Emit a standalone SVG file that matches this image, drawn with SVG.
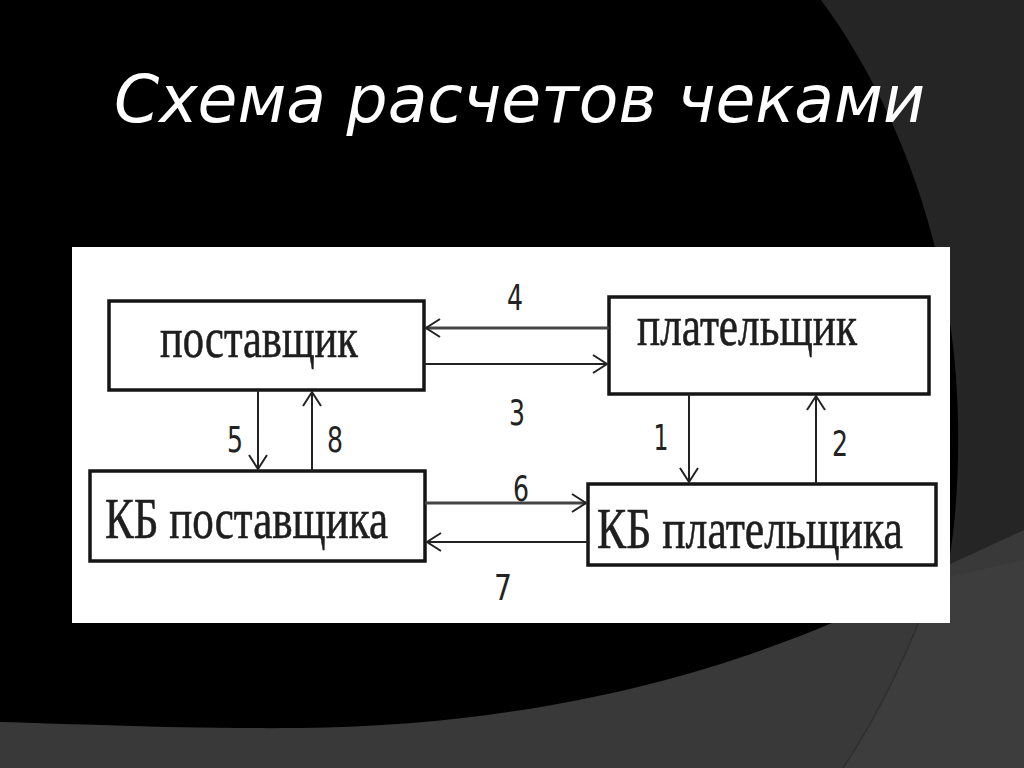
<svg xmlns="http://www.w3.org/2000/svg" width="1024" height="768" viewBox="0 0 1024 768">
  <defs>
    <style>
      .title { font-family: "DejaVu Sans", "Noto Sans", sans-serif; font-style: italic; font-size: 66px; fill: #ffffff; }
      .box { fill: #ffffff; stroke: #151515; stroke-width: 3.5; }
      .lbl { font-family: "Liberation Serif", "DejaVu Serif", serif; font-size: 56px; fill: #1e1e1e; stroke: #1e1e1e; stroke-width: 0.6; }
      .num { font-family: "DejaVu Sans Condensed", "DejaVu Sans", sans-serif; font-size: 36px; fill: #222222; text-anchor: middle; }
      .conn { stroke: #222222; stroke-width: 2; fill: none; }
      .thick { stroke: #444444; stroke-width: 3; }
    </style>
    <marker id="arr" markerUnits="userSpaceOnUse" markerWidth="18" markerHeight="22" refX="15" refY="10" orient="auto">
      <path d="M1,1 L15,10 L1,19" fill="none" stroke="#222222" stroke-width="2"/>
    </marker>
  </defs>

  <!-- background -->
  <g id="background">
    <rect x="0" y="0" width="1024" height="768" fill="#393939"/>
    <path d="M935,580 Q895,690 843,768 L1024,768 L1024,560 Z" fill="#3d3d3d"/>
    <path d="M935,580 Q895,690 843,768" fill="none" stroke="#2e2e2e" stroke-width="1.5"/>
    <path d="M780,0 H1024 V530 L948,565 L780,600 Z" fill="#252525"/>
    <path d="M0,0 H821 C895,100 955,250 958,420 C959,480 955,530 948,565 C820,640 600,725 300,728 C180,729 80,724 0,722 Z" fill="#000000"/>
  </g>

  <text class="title" x="114" y="122" textLength="811" lengthAdjust="spacingAndGlyphs">Схема расчетов чеками</text>

  <!-- white panel -->
  <rect id="panel" x="72" y="247" width="878" height="376" fill="#ffffff"/>

  <g id="node-postavshik">
    <rect class="box" x="109" y="301" width="315" height="89"/>
    <text class="lbl" x="160" y="357" textLength="198" lengthAdjust="spacingAndGlyphs">поставщик</text>
  </g>

  <g id="node-platelshik">
    <rect class="box" x="609" y="297" width="320" height="97"/>
    <text class="lbl" x="637" y="345" textLength="220" lengthAdjust="spacingAndGlyphs">плательщик</text>
  </g>

  <g id="node-kb-postavshika">
    <rect class="box" x="90" y="471" width="335" height="90"/>
    <text class="lbl" x="105" y="538" textLength="283" lengthAdjust="spacingAndGlyphs">КБ поставщика</text>
  </g>

  <g id="node-kb-platelshika">
    <rect class="box" x="588" y="484" width="348" height="81"/>
    <text class="lbl" x="597" y="548" textLength="306" lengthAdjust="spacingAndGlyphs">КБ плательщика</text>
  </g>

  <g id="connectors">
    <!-- 4: плательщик -> поставщик -->
    <line class="conn thick" x1="609" y1="328" x2="426" y2="328" marker-end="url(#arr)"/>
    <!-- 3: поставщик -> плательщик -->
    <line class="conn" x1="424" y1="364" x2="607" y2="364" marker-end="url(#arr)"/>
    <!-- 1: плательщик -> КБ плательщика -->
    <line class="conn" x1="689" y1="394" x2="689" y2="482" marker-end="url(#arr)"/>
    <!-- 2: КБ плательщика -> плательщик -->
    <line class="conn" x1="816" y1="484" x2="816" y2="396" marker-end="url(#arr)"/>
    <!-- 5: поставщик -> КБ поставщика -->
    <line class="conn" x1="258" y1="390" x2="258" y2="469" marker-end="url(#arr)"/>
    <!-- 8: КБ поставщика -> поставщик -->
    <line class="conn" x1="312" y1="471" x2="312" y2="392" marker-end="url(#arr)"/>
    <!-- 6: КБ поставщика -> КБ плательщика -->
    <line class="conn thick" x1="425" y1="503" x2="586" y2="503" marker-end="url(#arr)"/>
    <!-- 7: КБ плательщика -> КБ поставщика -->
    <line class="conn" x1="588" y1="542" x2="427" y2="542" marker-end="url(#arr)"/>

    <text class="num" x="515" y="310" textLength="16" lengthAdjust="spacingAndGlyphs">4</text>
    <text class="num" x="517" y="425" textLength="16" lengthAdjust="spacingAndGlyphs">3</text>
    <text class="num" x="661" y="450" textLength="15" lengthAdjust="spacingAndGlyphs">1</text>
    <text class="num" x="840" y="456" textLength="16" lengthAdjust="spacingAndGlyphs">2</text>
    <text class="num" x="235" y="452" textLength="16" lengthAdjust="spacingAndGlyphs">5</text>
    <text class="num" x="335" y="452" textLength="16" lengthAdjust="spacingAndGlyphs">8</text>
    <text class="num" x="521" y="501" textLength="16" lengthAdjust="spacingAndGlyphs">6</text>
    <text class="num" x="503" y="600" textLength="18" lengthAdjust="spacingAndGlyphs">7</text>
  </g>
</svg>
